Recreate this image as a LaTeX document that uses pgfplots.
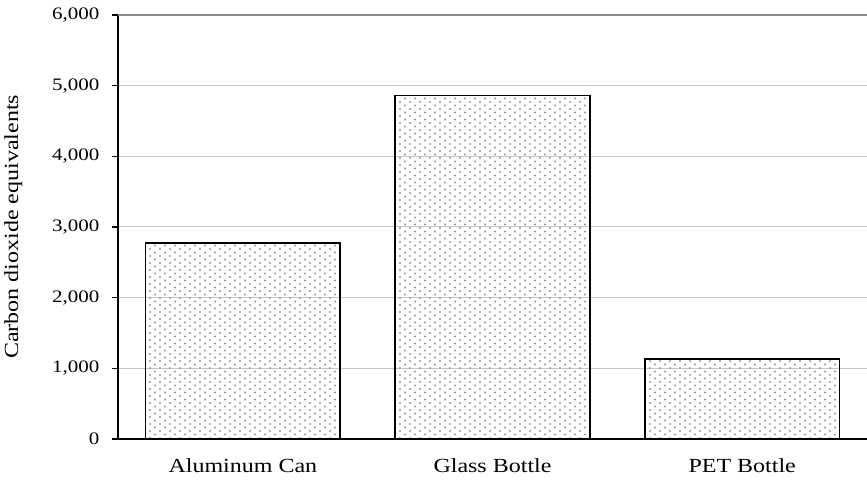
\documentclass[border=0pt]{standalone}
\usepackage{fontspec}
\setmainfont{Liberation Serif}[FakeStretch=1.2]
\usepackage{pgfplots}
\pgfplotsset{compat=1.18}
\usetikzlibrary{patterns}

% sparse staggered gray dots, like the spreadsheet's fill
\pgfdeclarepatternformonly{bardots}{\pgfqpoint{-1.5pt}{-1.5pt}}{\pgfqpoint{11.5pt}{8.5pt}}{\pgfqpoint{10pt}{7pt}}%
{\pgfpathcircle{\pgfqpoint{0pt}{0pt}}{1.1pt}\pgfpathcircle{\pgfqpoint{5pt}{3.5pt}}{1.1pt}\pgfusepath{fill}}

\begin{document}
\begin{tikzpicture}
\useasboundingbox (0,0) rectangle (867pt,487pt);
\begin{axis}[
    at={(118pt,48pt)}, anchor=south west,
    scale only axis,
    width=749pt, height=424pt,
    font=\fontsize{19}{22}\selectfont,
    /pgf/number format/assume math mode=true,
    axis x line=bottom, axis y line=left,
    x axis line style={-, black, line width=1.6pt},
    y axis line style={-, black, line width=2pt},
    xmin=-0.5, xmax=2.5,
    ymin=0, ymax=6000,
    xtick={0,1,2},
    xticklabels={Aluminum Can, Glass Bottle, PET Bottle},
    xticklabel style={yshift=-10pt, font=\fontsize{20}{22}\selectfont},
    xtick style={draw=none},
    extra x ticks={-0.5,0.5,1.5},
    extra x tick labels={},
    extra x tick style={major tick length=6pt, tick align=outside,
        tick style={draw=black, line width=1.4pt}},
    ytick={0,1000,...,5000},
    extra y ticks={6000},
    extra y tick style={major grid style={gray!90, line width=1.2pt}},
    tick align=outside,
    major tick length=6pt,
    ytick style={black, line width=1.4pt},
    yticklabel style={/pgf/number format/1000 sep={,}, xshift=-9pt,
        font=\fontsize{17.5}{20}\selectfont},
    ymajorgrids,
    major grid style={gray!45, line width=1pt},
    ylabel={Carbon dioxide equivalents},
    ylabel style={at={(axis description cs:-0.123,0.5)}, anchor=south,
        font=\fontsize{20}{24}\selectfont},
    clip=false,
]
\addplot[ybar, bar width=0.78, draw=black, line width=1.6pt,
    pattern=bardots, pattern color=gray!80] coordinates {
    (0,2770) (1,4860) (2,1130)
};
\end{axis}
\end{tikzpicture}
\end{document}
